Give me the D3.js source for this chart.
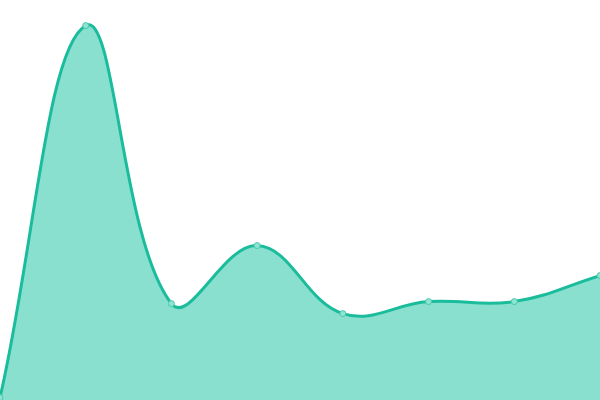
<!DOCTYPE html>
<html>
<head>
<meta charset="utf-8">
<script src="https://cdn.jsdelivr.net/npm/d3@7"></script>
<style>
html,body{margin:0;padding:0;background:#fff;}
svg{display:block;}
</style>
</head>
<body>
<svg id="chart" width="600" height="400"></svg>
<script>
const categories = ["1", "2", "3", "4", "5", "6", "7", "8"];
const values = [0.6, 93.6, 24.1, 38.6, 21.6, 24.6, 24.6, 31.1];
const yDomain = [0, 100];

const W = 600, H = 400;
const svg = d3.select("#chart");

const x = d3.scalePoint().domain(categories).range([0, W]);
const y = d3.scaleLinear().domain(yDomain).range([H, 0]);

// Chart.js-style spline (tension 0.4, distance-weighted, clamped to chart area)
function SplineCurve(context) { this._context = context; this._t = 0.4; }
SplineCurve.prototype = {
  areaStart() { this._line = 0; },
  areaEnd() { this._line = NaN; },
  lineStart() { this._pts = []; },
  point(px, py) { this._pts.push([+px, +py]); },
  lineEnd() {
    const p = this._pts, n = p.length, c = this._context, t = this._t;
    if (n) {
      if (this._line) c.lineTo(p[0][0], p[0][1]); else c.moveTo(p[0][0], p[0][1]);
      const cpPrev = [], cpNext = [];
      for (let i = 0; i < n; i++) {
        const a = p[Math.max(0, i - 1)], m = p[i], b = p[Math.min(n - 1, i + 1)];
        const d01 = Math.hypot(m[0] - a[0], m[1] - a[1]);
        const d12 = Math.hypot(b[0] - m[0], b[1] - m[1]);
        let s01 = d01 / (d01 + d12), s12 = d12 / (d01 + d12);
        if (!isFinite(s01)) s01 = 0;
        if (!isFinite(s12)) s12 = 0;
        const fa = t * s01, fb = t * s12;
        const clampX = v => Math.max(0, Math.min(W, v));
        const clampY = v => Math.max(0, Math.min(H, v));
        cpPrev[i] = [clampX(m[0] - fa * (b[0] - a[0])), clampY(m[1] - fa * (b[1] - a[1]))];
        cpNext[i] = [clampX(m[0] + fb * (b[0] - a[0])), clampY(m[1] + fb * (b[1] - a[1]))];
      }
      for (let i = 1; i < n; i++) {
        c.bezierCurveTo(cpNext[i - 1][0], cpNext[i - 1][1], cpPrev[i][0], cpPrev[i][1], p[i][0], p[i][1]);
      }
    }
    if (this._line || (this._line !== 0 && n === 1)) c.closePath();
    this._line = 1 - this._line;
  }
};
const spline = ctx => new SplineCurve(ctx);

const data = categories.map((c, i) => ({ c, v: values[i] }));

const area = d3.area()
  .x(d => x(d.c))
  .y0(y(yDomain[0]))
  .y1(d => y(d.v))
  .curve(spline);

const line = d3.line()
  .x(d => x(d.c))
  .y(d => y(d.v))
  .curve(spline);

svg.append("path")
  .datum(data)
  .attr("d", area)
  .attr("fill", "#8ae0cf");

svg.append("path")
  .datum(data)
  .attr("d", line)
  .attr("fill", "none")
  .attr("stroke", "#1abc9c")
  .attr("stroke-width", 3);

svg.selectAll("circle")
  .data(data)
  .join("circle")
  .attr("cx", d => x(d.c))
  .attr("cy", d => y(d.v))
  .attr("r", 3)
  .attr("fill", "#8ee3d2")
  .attr("stroke", "#4cc9ae")
  .attr("stroke-width", 1);
</script>
</body>
</html>
